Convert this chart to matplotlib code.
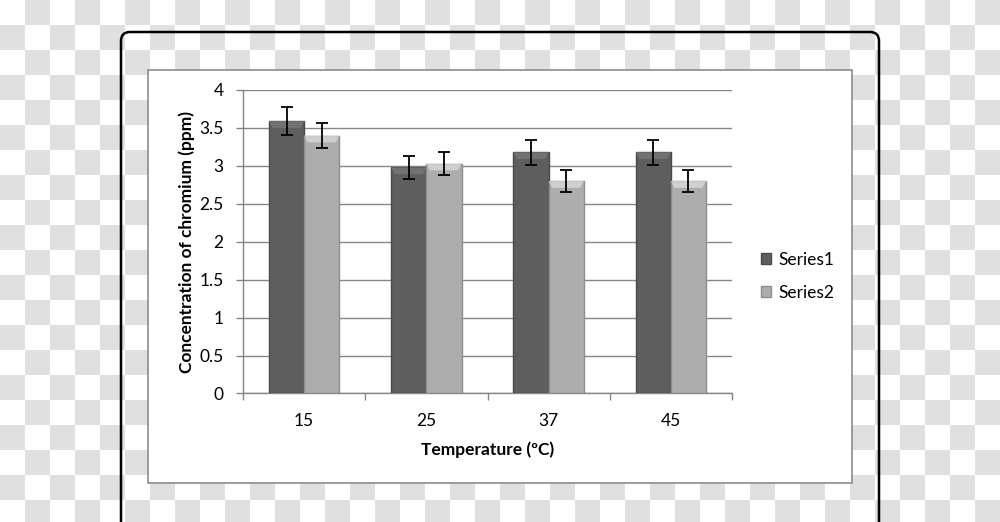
import numpy as np
import matplotlib
matplotlib.use('Agg')
import matplotlib.pyplot as plt
from matplotlib.patches import FancyBboxPatch, Rectangle, Patch, Polygon

plt.rcParams['font.family'] = ['Lato', 'DejaVu Sans']

# data
temps = ['15', '25', '37', '45']
series1 = [3.59, 2.98, 3.18, 3.18]
series2 = [3.40, 3.03, 2.80, 2.80]
err1 = [0.185, 0.155, 0.165, 0.165]
err2 = [0.17, 0.15, 0.145, 0.145]

c1 = '#5e5e5e'
c2 = '#adadad'

fig = plt.figure(figsize=(10, 5.22), dpi=100)

# checkered "transparent" backdrop, frame and white chart box (pixel coords)
bg = fig.add_axes([0, 0, 1, 1])
jj, ii = np.indices((21, 40))
checker = (ii + jj) % 2
bg.imshow(checker, cmap=matplotlib.colors.ListedColormap(['#ffffff', '#e0e0e0']),
          extent=(0, 1000, 525, 0), interpolation='nearest', aspect='auto', zorder=0)
bg.set_xlim(0, 1000)
bg.set_ylim(522, 0)
bg.axis('off')
frame = FancyBboxPatch((121, 32), 758, 520, boxstyle='round,pad=0,rounding_size=9',
                       fc='none', ec='black', lw=1.8, zorder=1)
bg.add_patch(frame)
bg.add_patch(Rectangle((148, 70), 704, 413, fc='white', ec='#8c8c8c', lw=1.2, zorder=2))

# main plot
ax = fig.add_axes([0.243, 0.2462, 0.489, 0.5814])
x = np.arange(len(temps))
w = 0.288
ax.bar(x - w / 2, series1, w, color=c1, edgecolor='#4a4a4a', lw=1, zorder=3, label='Series1')
ax.bar(x + w / 2, series2, w, color=c2, edgecolor='#8e8e8e', lw=1, zorder=3, label='Series2')

# bevelled tops like the Excel 3D bars
bev_h = 0.09
bev_in = 0.03
for vals, off, col in [(series1, -w / 2, '#7a7a7a'), (series2, w / 2, '#dcdcdc')]:
    for xi, v in zip(x, vals):
        l = xi + off - w / 2
        r = xi + off + w / 2
        ax.add_patch(Polygon([(l, v), (r, v), (r - bev_in, v - bev_h), (l + bev_in, v - bev_h)],
                             closed=True, fc=col, ec='none', alpha=0.75, zorder=3.5))

ax.errorbar(x - w / 2, series1, yerr=err1, fmt='none', ecolor='black', elinewidth=1.3,
            capsize=4.5, capthick=1.3, zorder=4)
ax.errorbar(x + w / 2, series2, yerr=err2, fmt='none', ecolor='black', elinewidth=1.3,
            capsize=4.5, capthick=1.3, zorder=4)

ax.set_xlim(-0.5, 3.5)
ax.set_ylim(0, 4)
ax.set_yticks(np.arange(0, 4.01, 0.5))
ax.set_yticklabels(['0', '0.5', '1', '1.5', '2', '2.5', '3', '3.5', '4'])
ax.set_xticks(x)
ax.set_xticklabels(temps)
ax.set_xticks(np.arange(-0.5, 3.6, 1), minor=True)
ax.tick_params(axis='x', which='major', length=0, pad=14, labelsize=12.5)
ax.tick_params(axis='x', which='minor', length=5, color='#868686', width=1)
ax.tick_params(axis='y', length=5, color='#868686', width=1, pad=9, labelsize=12.5)
ax.grid(axis='y', color='#868686', lw=1, zorder=0)
ax.set_axisbelow(True)
for s in ['top', 'right']:
    ax.spines[s].set_visible(False)
for s in ['left', 'bottom']:
    ax.spines[s].set_color('#868686')
    ax.spines[s].set_linewidth(1)
ax.patch.set_alpha(0)

ax.set_xlabel('Temperature (ºC)', fontsize=12.5, fontweight='bold', labelpad=9)
ax.set_ylabel('Concentration of chromium (ppm)', fontsize=12.5, fontweight='bold', labelpad=3)

handles = [Patch(fc=c1, ec='#4a4a4a'), Patch(fc=c2, ec='#8e8e8e')]
fig.legend(handles, ['Series1', 'Series2'], loc='upper left', bbox_to_anchor=(0.745, 0.548),
           frameon=False, fontsize=12.5, handlelength=0.6, handleheight=0.6,
           handletextpad=0.4, labelspacing=1.0)

fig.savefig('out.png', dpi=100)
